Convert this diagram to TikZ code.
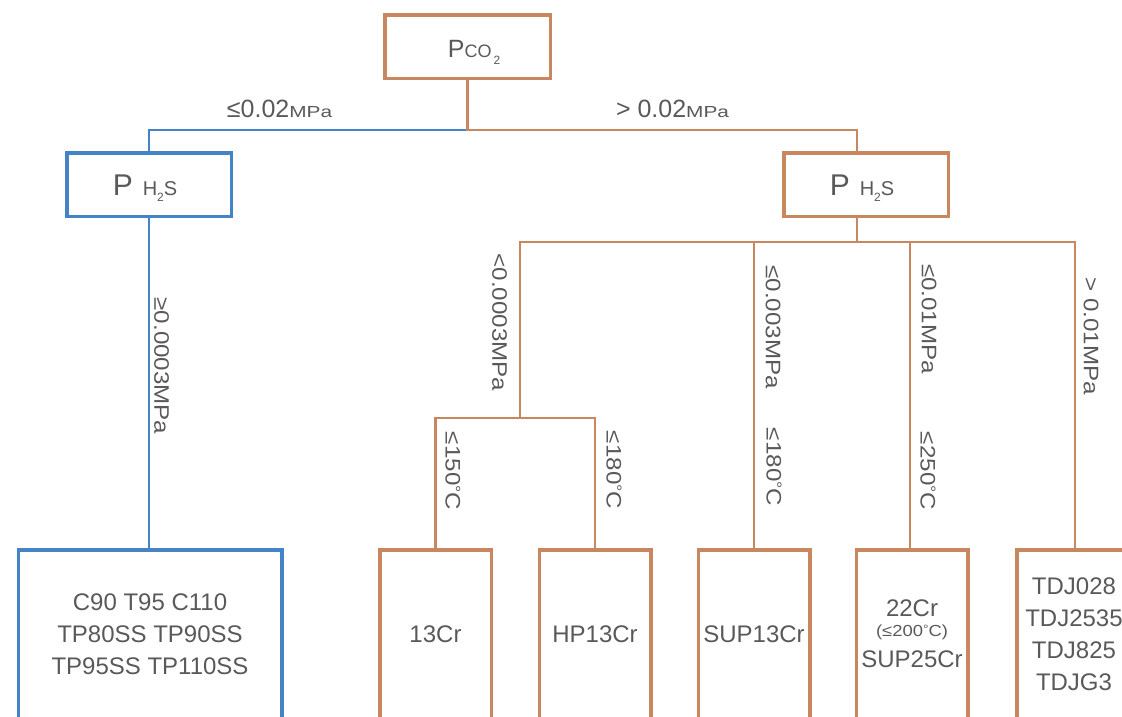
\documentclass[tikz,border=0pt]{standalone}
\usepackage{fontspec}
\setmainfont{Liberation Sans}
\usepackage{graphicx}
\usetikzlibrary{positioning,calc}

\definecolor{brn}{RGB}{200,135,95}
\definecolor{blu}{RGB}{68,132,198}
\definecolor{txt}{RGB}{89,89,89}
\newcommand{\fs}[2]{\fontsize{#1}{#2}\selectfont}
\newcommand{\degsym}{\raisebox{0.18em}{\scalebox{0.75}{°}}}
\newcommand{\widen}[1]{\scalebox{1.15}[1]{#1}}

\tikzset{
  pbox/.style={draw=brn, line width=3.5pt, text=txt, inner sep=0pt},
  bluebox/.style={pbox, draw=blu},
  headbox/.style={minimum width=164.5pt, minimum height=63.5pt, text height=21pt, text depth=0pt},
  leaf/.style={minimum width=111.5pt, minimum height=168.5pt, align=center, font=\fs{24}{32}},
  link/.style={brn, line width=2.2pt},
  bluelink/.style={link, blu},
  hlab/.style={font=\fs{25}{28}, text=txt, inner sep=0pt, anchor=base},
  vlab/.style={rotate=-90, font=\fs{21}{25}, text=txt, inner sep=0pt}
}

\begin{document}
\begin{tikzpicture}[x=1pt, y=-1pt]
  \useasboundingbox (0,0) rectangle (1122,716);
  \clip (0,0) rectangle (1122,716);
  % Pressure boxes
  \node[pbox, headbox, minimum width=165.5pt] (pco) at (467.5,46.5)
    {\hspace*{13pt}{\fs{25}{25}P}{\fs{18}{18}CO}\kern2pt\raisebox{-7pt}{\fs{12}{12}2}};
  \node[bluebox, headbox] (phsl) at (149,184.5)
    {{\fs{30}{30}P}\hspace{10pt}{\fs{20}{20}H\raisebox{-6pt}{\fs{12}{12}2}S}\kern8pt};
  \node[pbox, headbox] (phsr) at (866,184.5)
    {{\fs{30}{30}P}\hspace{10pt}{\fs{20}{20}H\raisebox{-6pt}{\fs{12}{12}2}S}\kern8pt};
  % Material boxes
  \node[bluebox, leaf, minimum width=263.5pt] (steel) at (150,634)
    {C90 T95 C110\\TP80SS TP90SS\\TP95SS TP110SS};
  \node[pbox, leaf] (cr13) at (435.5,634) {13Cr};
  \node[pbox, leaf] (hp13) at (595,634) {HP13Cr};
  \node[pbox, leaf] (sup13) at (754,634) {SUP13Cr};
  \node[pbox, leaf, font=\fs{24}{30}] (cr22) at (912,634)
    {22Cr\\[-10pt]{\fs{16}{16}\widen{(≤200\degsym C)}}\\[1pt]SUP25Cr};
  \node[pbox, leaf, minimum width=114.5pt] (tdj) at (1074,634)
    {TDJ028\\TDJ2535\\TDJ825\\TDJG3};

  % CO2 split
  \coordinate (sp) at (467.5,130);
  \coordinate (jr) at (857,130);
  \draw[bluelink] (sp) -| (phsl.north);
  \draw[link] (pco.south) -- (sp) -- (jr) -- (jr |- phsr.north);
  \node[hlab] (lo) at (279.5,117) {≤0.02{\fs{16}{16}\scalebox{1.3}[1]{MPa}}};
  \node[hlab] (hi) at (672.5,117) {> 0.02{\fs{16}{16}\scalebox{1.3}[1]{MPa}}};

  % Left branch
  \draw[bluelink] (phsl.south) -- (phsl.south |- steel.north);
  \node[vlab] (l1) at (161.5,366) {\widen{≥0.0003MPa}};

  % Right branch
  \coordinate (jr2) at (857,242);
  \coordinate (b1) at (520,242);
  \coordinate (b2) at (754,242);
  \coordinate (b3) at (910,242);
  \coordinate (b4) at (1075,242);
  \coordinate (s1) at (520,418);
  \draw[link] (jr |- phsr.south) -- (jr2);
  \draw[link] (s1) -- (b1) -- (b4) -- (b4 |- tdj.north);
  \draw[link] (b2) -- (sup13.north);
  \draw[link] (b3) -- (b3 |- cr22.north);
  \draw[link] (cr13.north) |- (s1) -| (hp13.north);
  \node[vlab] (l2) at (499.5,322.5) {\widen{<0.0003MPa}};
  \node[vlab] (l3) at (773,327) {\widen{≤0.003MPa}};
  \node[vlab] (l4) at (929,319) {\widen{≤0.01MPa}};
  \node[vlab] (l5) at (1091,336) {\widen{> 0.01MPa}};
  \node[vlab] (l6) at (453,471) {\widen{≤150\degsym C}};
  \node[vlab] (l7) at (614,470) {\widen{≤180\degsym C}};
  \node[vlab] (l8) at (774,467) {\widen{≤180\degsym C}};
  \node[vlab] (l9) at (928,471) {\widen{≤250\degsym C}};
\end{tikzpicture}
\end{document}
